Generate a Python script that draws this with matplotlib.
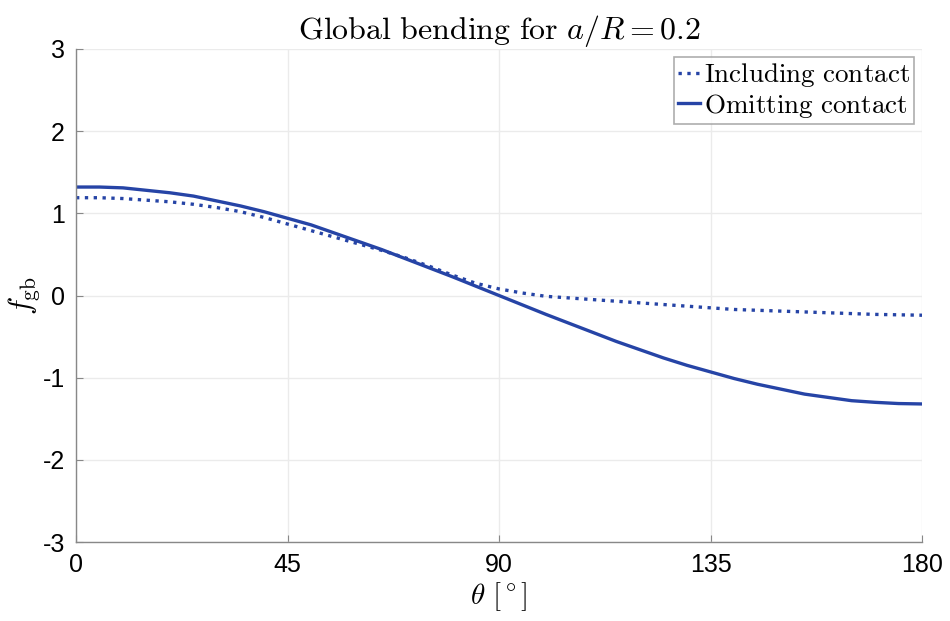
import numpy as np
import matplotlib
matplotlib.use("Agg")
import matplotlib.pyplot as plt

plt.rcParams['mathtext.fontset'] = 'cm'
plt.rcParams['font.family'] = ['Liberation Sans', 'DejaVu Sans']
plt.rcParams['axes.unicode_minus'] = False

# angles in degrees, read every 5 deg
theta = [0, 5, 10, 15, 20, 25, 30, 35, 40, 45, 50, 55, 60, 65, 70, 75, 80, 85,
         90, 95, 100, 105, 110, 115, 120, 125, 130, 135, 140, 145, 150, 155,
         160, 165, 170, 175, 180]
including = [1.19, 1.19, 1.18, 1.16, 1.14, 1.11, 1.07, 1.02, 0.95, 0.87, 0.79,
             0.71, 0.63, 0.55, 0.46, 0.36, 0.25, 0.15, 0.08, 0.03, -0.01,
             -0.03, -0.05, -0.07, -0.09, -0.11, -0.13, -0.15, -0.17, -0.18,
             -0.19, -0.20, -0.21, -0.22, -0.23, -0.235, -0.24]
omitting = [1.32, 1.32, 1.31, 1.28, 1.25, 1.21, 1.15, 1.09, 1.02, 0.94, 0.86,
            0.76, 0.66, 0.56, 0.45, 0.34, 0.23, 0.115, 0.0, -0.115, -0.23,
            -0.34, -0.45, -0.56, -0.66, -0.76, -0.85, -0.93, -1.01, -1.08,
            -1.14, -1.20, -1.24, -1.28, -1.30, -1.315, -1.32]

xticks = [0, 45, 90, 135, 180]
yticks = [-3, -2, -1, 0, 1, 2, 3]

col = '#2644a6'

fig = plt.figure(figsize=(9.5, 6.21), dpi=100)
ax = fig.add_axes([76/950, 1 - 542/621, (922 - 76)/950, (542 - 49)/621])

ax.plot(theta, including, ':', color=col, lw=2.4, label=r'$\mathrm{Including\ contact}$')
ax.plot(theta, omitting, '-', color=col, lw=2.4, label=r'$\mathrm{Omitting\ contact}$')

ax.set_xlim(0, 180)
ax.set_ylim(-3, 3)
ax.set_xticks(xticks)
ax.set_yticks(yticks)
ax.tick_params(direction='in', length=5, color='#888888', labelsize=18,
               top=False, right=False, pad=8)
for side in ['top', 'right']:
    ax.spines[side].set_visible(False)
for side in ['left', 'bottom']:
    ax.spines[side].set_color('#888888')
    ax.spines[side].set_linewidth(1.0)
ax.grid(True, color='#ebebeb', lw=1.0)
ax.set_axisbelow(True)

ax.set_title(r'$\mathrm{Global\ bending\ for}\ a/R=0.2$', fontsize=23, pad=6)
ax.set_xlabel(r'$\theta\ [^\circ]$', fontsize=21, labelpad=2)
ax.set_ylabel(r'$f_{\mathrm{gb}}$', fontsize=22)
ax.yaxis.set_label_coords(-0.04, 0.5)

leg = ax.legend(loc='upper right', fontsize=19.5, frameon=True, fancybox=False,
                handlelength=0.8, handletextpad=0.15, borderpad=0.15,
                labelspacing=0.1, borderaxespad=0.3)
leg.get_frame().set_edgecolor('#999999')
leg.get_frame().set_linewidth(1.2)

plt.savefig("out.png", dpi=100)
